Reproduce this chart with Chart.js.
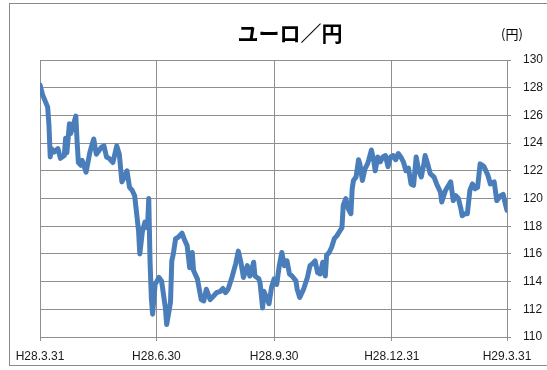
<!DOCTYPE html>
<html>
<head>
<meta charset="utf-8">
<script src="https://cdn.jsdelivr.net/npm/chart.js@4/dist/chart.umd.min.js"></script>
<style>
  body { margin: 0; background: #fff; }
</style>
</head>
<body>
<canvas id="euroChart" width="547" height="370"></canvas>
<script>
// days counted from H28.3.31
const days = [0, 2, 6, 7, 8, 9, 11, 14, 16, 19, 20, 21, 23, 24, 26, 28, 29, 30, 32, 33,
  36, 39, 42, 44, 48, 50, 52, 54, 57, 60, 62, 64, 66, 68, 70, 72, 74, 77, 78, 80,
  82, 84, 85, 86, 87, 88, 90, 93, 95, 98, 99, 102, 103, 104, 106, 108, 111, 113, 115, 117,
  119, 120, 123, 126, 128, 130, 133, 136, 138, 141, 143, 145, 147, 150, 153, 155, 157, 159, 162, 164,
  167, 168, 171, 172, 174, 175, 177, 179, 181, 183, 185, 187, 189, 191, 193, 195, 197, 200, 201, 203,
  206, 209, 211, 213, 215, 217, 219, 221, 223, 224, 226, 228, 230, 232, 234, 236, 237, 239, 241, 243,
  244, 245, 247, 249, 250, 252, 254, 256, 257, 259, 261, 262, 264, 266, 268, 270, 272, 274, 276, 278,
  280, 282, 284, 286, 288, 290, 292, 294, 296, 298, 300, 301, 303, 305, 308, 310, 313, 314, 317, 321,
  323, 325, 327, 329, 330, 332, 334, 336, 338, 340, 342, 344, 347, 350, 352, 355, 357, 360, 362, 364, 365];

const rates = [128.2, 127.5, 126.6, 125.3, 123.0, 123.6, 123.35, 123.6, 122.9, 123.1, 124.35, 123.3, 125.4, 124.7, 125.3, 125.95, 124.1, 122.6, 122.4, 122.75,
  121.9, 123.35, 124.3, 123.2, 123.7, 123.8, 123.0, 122.9, 122.6, 123.8, 123.2, 121.2, 121.55, 122.0, 120.8, 120.6, 120.2, 117.7, 116.0, 117.6,
  118.3, 117.9, 120.0, 115.5, 112.85, 111.65, 113.8, 114.3, 114.05, 112.1, 110.9, 112.5, 115.5, 115.9, 117.1, 117.2, 117.5, 117.0, 116.6, 115.0,
  116.1, 114.8, 114.2, 112.7, 112.6, 113.45, 112.7, 113.0, 113.2, 113.3, 113.5, 113.2, 113.45, 114.3, 115.3, 116.2, 115.4, 114.3, 115.15, 114.4,
  115.4, 114.4, 114.2, 113.9, 112.1, 113.3, 112.85, 112.4, 113.6, 114.2, 113.8, 115.15, 116.1, 115.15, 115.5, 114.55, 114.4, 114.05, 113.45, 112.85,
  113.45, 114.3, 115.15, 115.3, 115.5, 114.65, 114.55, 115.4, 114.4, 115.9, 116.1, 116.5, 117.1, 117.3, 117.6, 117.9, 119.5, 120.0, 119.25, 118.9,
  120.7, 121.3, 121.55, 122.8, 122.5, 121.3, 122.15, 122.5, 122.8, 123.5, 122.65, 122.0, 123.0, 122.65, 123.0, 123.1, 122.3, 123.0, 123.1, 122.8,
  123.25, 123.0, 122.65, 122.0, 122.2, 121.05, 120.95, 123.0, 122.0, 121.55, 122.5, 123.1, 122.5, 121.8, 121.55, 121.05, 120.45, 119.75, 120.6, 121.2,
  119.85, 120.2, 120.0, 119.25, 118.75, 118.9, 118.9, 120.6, 121.05, 120.7, 120.8, 122.5, 122.3, 121.7, 121.05, 121.2, 119.85, 120.2, 120.3, 119.5, 119.15];

const tickDays = [0, 91, 183, 275, 365];
const tickLabels = ["H28.3.31", "H28.6.30", "H28.9.30", "H28.12.31", "H29.3.31"];

const gridGray = "#8f8f8f";

const frame = {
  id: "frame",
  beforeDraw(chart) {
    const c = chart.ctx;
    c.save();
    c.fillStyle = "#fff";
    c.fillRect(0, 0, chart.width, chart.height);
    c.strokeStyle = "#8a8a8a";
    c.lineWidth = 1;
    c.strokeRect(9.5, 3.5, 600, 362);
    c.restore();
  },
  afterDraw(chart) {
    const c = chart.ctx;
    c.save();
    c.fillStyle = "#000";
    c.textAlign = "center";
    c.textBaseline = "middle";
    c.font = "bold 21px 'Noto Sans CJK JP'";
    c.fillText("ユーロ／円", 290, 33);
    c.font = "13px 'Noto Sans CJK JP'";
    c.fillText("(円)", 512, 34);
    c.restore();
  }
};

new Chart(document.getElementById("euroChart"), {
  type: "line",
  data: {
    datasets: [
      {
        data: days.map((d, i) => ({ x: d, y: rates[i] })),
        borderColor: "#4a7ebb",
        borderWidth: 5,
        borderJoinStyle: "round",
        borderCapStyle: "round",
        pointRadius: 0,
        tension: 0,
        fill: false,
      },
    ],
  },
  options: {
    responsive: false,
    animation: false,
    devicePixelRatio: 1,
    layout: { padding: { top: 60, left: 40, right: 0, bottom: 0 } },
    plugins: {
      legend: { display: false },
      title: { display: false },
      tooltip: { enabled: false },
    },
    scales: {
      x: {
        type: "linear",
        min: 0,
        max: 365,
        afterBuildTicks: (axis) => {
          axis.ticks = tickDays.map((v) => ({ value: v }));
        },
        afterFit: (axis) => {
          axis.height = 33;
        },
        grid: { color: gridGray, lineWidth: 1, tickLength: 4 },
        border: { color: gridGray },
        ticks: {
          autoSkip: false,
          maxRotation: 0,
          padding: 8,
          color: "#1a1a1a",
          font: { family: "'Liberation Sans'", size: 12 },
          callback: (v) => tickLabels[tickDays.indexOf(v)],
        },
      },
      y: {
        position: "right",
        min: 110,
        max: 130,
        afterFit: (axis) => {
          axis.width = 40;
        },
        grid: { color: gridGray, lineWidth: 1, tickLength: 4 },
        border: { color: gridGray },
        ticks: {
          stepSize: 2,
          padding: 12,
          color: "#1a1a1a",
          font: { family: "'Liberation Sans'", size: 12 },
        },
      },
    },
  },
  plugins: [frame],
});
</script>
</body>
</html>
